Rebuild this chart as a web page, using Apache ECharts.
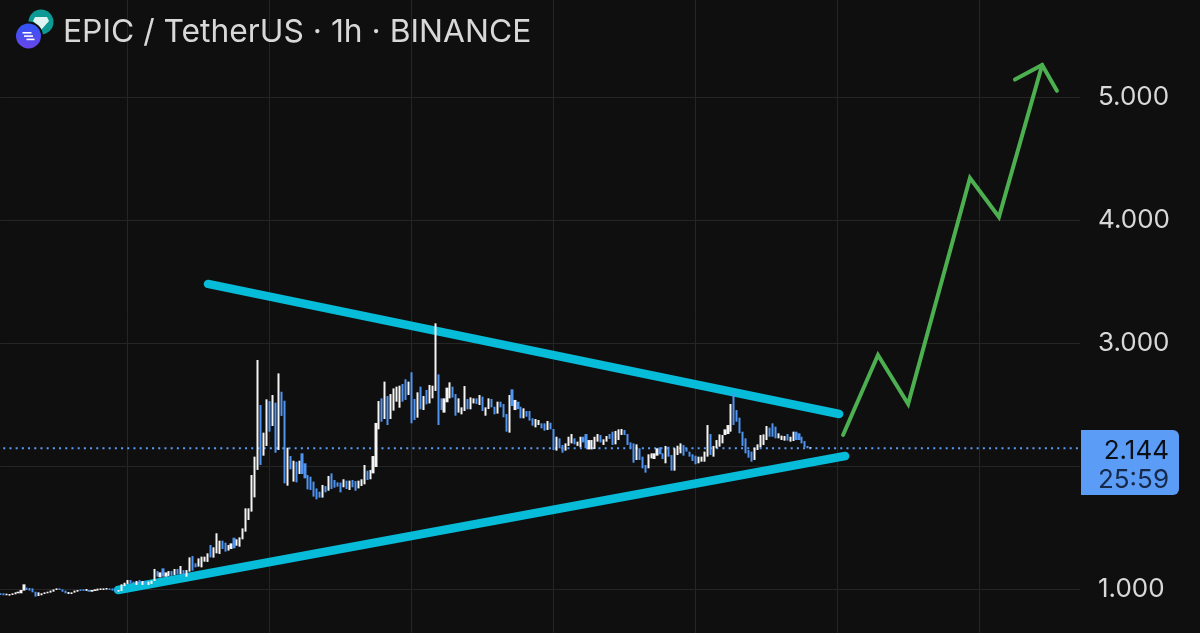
<!DOCTYPE html>
<html>
<head>
<meta charset="utf-8">
<script src="https://cdn.jsdelivr.net/npm/echarts@6/dist/echarts.min.js"></script>
<style>html,body{margin:0;padding:0;background:#0f0f0f}#c{width:1200px;height:633px}</style>
</head>
<body>
<div id="c"></div>
<script>
const chartTitle = 'EPIC / TetherUS · 1h · BINANCE';
const yTickLabels = [1, 3, 4, 5];
const lastPrice = 2.144;
const countdown = '25:59';
const opens = [
.965,.965,.949,.946,.951,.957,.965,.965,.987,1.011,
1.008,1.005,.978,.943,.949,.959,.965,.970,.978,.992,
1.005,.997,.987,.959,.959,.970,.978,.997,.997,.984,
.992,.978,.984,.987,.992,.992,.995,1.005,1.005,.997,
.978,.984,1.024,1.041,1.073,1.060,1.033,1.073,1.033,1.060,
1.033,1.041,1.065,1.146,1.095,1.168,1.100,1.106,1.146,1.114,
1.163,1.122,1.154,1.100,1.141,1.268,1.209,1.182,1.176,1.222,
1.220,1.358,1.255,1.290,1.285,1.393,1.377,1.312,1.325,1.417,
1.352,1.344,1.404,1.466,1.561,1.629,1.745,1.968,2.496,2.084,
2.163,2.528,2.325,2.515,2.130,2.604,2.531,1.840,2.081,1.873,
2.035,1.935,2.103,2.022,1.927,1.913,1.873,1.818,1.791,1.743,
1.837,1.799,1.940,1.886,1.867,1.865,1.827,1.881,1.805,1.886,
1.878,1.818,1.837,1.851,1.962,1.892,1.940,1.992,2.298,2.550,
2.382,2.569,2.382,2.450,2.523,2.474,2.667,2.705,2.577,2.762,
2.545,2.393,2.645,2.455,2.618,2.509,2.550,2.610,2.745,2.550,
2.434,2.518,2.550,2.645,2.585,2.434,2.420,2.447,2.545,2.461,
2.509,2.550,2.496,2.564,2.409,2.463,2.545,2.482,2.426,2.523,
2.504,2.423,2.271,2.623,2.455,2.523,2.482,2.388,2.447,2.447,
2.388,2.314,2.333,2.347,2.347,2.293,2.352,2.301,2.125,2.225,
2.171,2.125,2.163,2.184,2.225,2.163,2.152,2.238,2.260,2.135,
2.135,2.138,2.198,2.252,2.171,2.198,2.260,2.279,2.176,2.211,
2.252,2.293,2.260,2.192,2.184,2.049,2.144,2.076,2.008,1.981,
2.062,2.057,2.084,2.152,2.103,2.022,2.157,2.089,1.962,2.089,
2.103,2.171,2.144,2.117,2.095,2.084,2.022,2.035,2.035,2.076,
2.260,2.076,2.144,2.157,2.184,2.252,2.260,2.279,2.591,2.455,
2.393,2.279,2.225,2.130,2.117,2.049,2.130,2.152,2.171,2.211,
2.312,2.347,2.320,2.225,2.211,2.206,2.260,2.198,2.203,2.279,
2.266,2.238,2.203,2.163,2.144
];
const closes = [
.951,.949,.962,.959,.965,.973,.978,.992,1.038,.992,
.987,.973,.938,.973,.965,.973,.978,.987,.997,1.005,
.992,.978,.965,.976,.973,.987,.992,.984,.984,1.000,
.978,.992,.997,1.003,1.005,1.005,1.008,.992,.987,.978,
.992,1.038,1.051,1.073,1.046,1.041,1.065,1.041,1.065,1.041,
1.060,1.068,1.163,1.100,1.135,1.100,1.135,1.146,1.108,1.163,
1.119,1.187,1.114,1.154,1.257,1.149,1.176,1.249,1.263,1.263,
1.290,1.257,1.339,1.453,1.393,1.325,1.304,1.358,1.371,1.331,
1.404,1.420,1.493,1.656,1.656,1.927,2.076,2.862,2.008,2.271,
2.542,2.279,2.577,2.108,2.753,2.407,1.859,2.149,1.973,2.043,
1.867,2.043,1.935,1.900,1.810,1.805,1.751,1.729,1.743,1.846,
1.786,1.919,1.813,1.824,1.832,1.786,1.892,1.813,1.881,1.827,
1.799,1.881,1.892,2.008,1.886,1.968,2.081,2.350,2.528,2.360,
2.686,2.333,2.585,2.631,2.645,2.653,2.523,2.537,2.686,2.347,
2.374,2.599,2.461,2.569,2.501,2.659,2.653,3.160,2.333,2.455,
2.550,2.637,2.680,2.556,2.409,2.550,2.477,2.650,2.461,2.558,
2.550,2.504,2.577,2.447,2.477,2.550,2.477,2.420,2.523,2.477,
2.396,2.279,2.577,2.488,2.537,2.463,2.388,2.469,2.401,2.369,
2.328,2.382,2.374,2.306,2.287,2.366,2.298,2.130,2.238,2.144,
2.108,2.184,2.238,2.260,2.176,2.198,2.238,2.192,2.144,2.211,
2.211,2.238,2.260,2.192,2.217,2.244,2.220,2.171,2.285,2.298,
2.301,2.252,2.171,2.144,2.027,2.176,2.049,1.981,1.946,2.095,
2.103,2.103,2.144,2.095,2.057,2.163,2.076,1.962,2.144,2.165,
2.184,2.084,2.117,2.076,2.041,2.014,2.076,2.076,2.117,2.333,
2.089,2.163,2.211,2.257,2.252,2.298,2.333,2.504,2.333,2.360,
2.266,2.163,2.103,2.068,2.035,2.149,2.176,2.252,2.257,2.325,
2.238,2.238,2.225,2.266,2.247,2.244,2.206,2.238,2.279,2.211,
2.211,2.184,2.152,2.144,2.152
];
const totalHours = 366;
const hourLabels = Array.from({length: totalHours}, (_, i) => String(i));
const gridHourOffset = 43, gridHourStep = 48;
const upperTrendHours = [70.2, 283.6], upperTrendPrices = [3.480, 2.423];
const lowerTrendHours = [39.8, 285.6], lowerTrendPrices = [0.992, 2.081];
const forecastHours = [284.9, 296.7, 306.9, 327.8, 337.6, 352.2];
const forecastPrices = [2.252, 2.902, 2.504, 4.341, 4.024, 5.260];
const arrowHours = [343.0, 352.2, 357.2];
const arrowPrices = [5.142, 5.260, 5.050];

const zip = (a, b) => a.map((v, i) => [v, b[i]]);
const candles = opens.map((o, i) => [o, closes[i], Math.min(o, closes[i]), Math.max(o, closes[i])]);
const font = 'Inter';
const trendStyle = {color: '#06bcd9', width: 8.5, cap: 'round'};
const greenStyle = {color: '#4caf50', width: 4, cap: 'round', join: 'miter'};
const overlay = (name, data, lineStyle, z) => ({
  name, type: 'line', xAxisIndex: 1, data, lineStyle, z, symbol: 'none', silent: true, clip: false
});

const chart = echarts.init(document.getElementById('c'), null, {renderer: 'canvas'});
chart.setOption({
  animation: false,
  backgroundColor: '#0f0f0f',
  title: {text: chartTitle, left: 58, top: 11, textStyle: {color: '#d8d8d8', fontFamily: font, fontWeight: 400, fontSize: 31.8}},
  grid: {left: 0.3, width: 1079.7, top: -26, height: 738, outerBoundsMode: 'none'},
  xAxis: [
    {type: 'category', data: hourLabels, boundaryGap: false,
     axisLine: {show: false}, axisTick: {show: false}, axisLabel: {show: false},
     splitLine: {show: true, interval: i => (i - gridHourOffset) % gridHourStep === 0, lineStyle: {color: '#252525', width: 1}}},
    {type: 'value', min: 0, max: totalHours - 1, show: false, splitLine: {show: false}}
  ],
  yAxis: {
    type: 'value', min: 0, max: 6, interval: 1, position: 'right',
    axisLine: {show: false}, axisTick: {show: false},
    splitLine: {show: true, lineStyle: {color: '#252525', width: 1}},
    axisLabel: {
      margin: 18, color: '#d8d8d8', fontFamily: font, fontSize: 26, padding: [7, 0, 0, 0],
      formatter: v => yTickLabels.includes(v) ? v.toFixed(3) : ''
    }
  },
  series: [
    overlay('Last price', [[1, lastPrice], [totalHours - 1, lastPrice]], {color: '#5b9cf6', width: 2, type: [2, 4.2]}, 2),
    overlay('Upper trend', zip(upperTrendHours, upperTrendPrices), trendStyle, 3),
    overlay('Lower trend', zip(lowerTrendHours, lowerTrendPrices), trendStyle, 3),
    {name: 'EPIC/USDT', type: 'candlestick', data: candles, barWidth: 2.6, z: 4, silent: true,
     itemStyle: {color: '#f4f4f4', color0: '#4f94f0', borderColor: '#f4f4f4', borderColor0: '#4f94f0', borderWidth: 0}},
    overlay('Forecast', zip(forecastHours, forecastPrices), greenStyle, 5),
    overlay('Forecast arrow', zip(arrowHours, arrowPrices), greenStyle, 5)
  ],
  graphic: [
    {type: 'rect', shape: {x: 1081, y: 430, width: 98, height: 65, r: [0, 6, 6, 0]}, style: {fill: '#5b9cf6'}, z: 20},
    {type: 'text', x: 1169, y: 451, z: 21, style: {text: lastPrice.toFixed(3), fill: '#0b0f16', font: '26px Inter', align: 'right', verticalAlign: 'middle'}},
    {type: 'text', x: 1169, y: 480, z: 21, style: {text: countdown, fill: '#16294a', font: '26px Inter', align: 'right', verticalAlign: 'middle'}},
    {type: 'circle', shape: {cx: 41, cy: 22, r: 12.5}, style: {fill: '#0e9a94'}, z: 20},
    {type: 'polygon', shape: {points: [[35,17],[47,17],[49,21],[41,30],[33,21]]}, style: {fill: '#dff5f3'}, z: 21},
    {type: 'circle', shape: {cx: 28.5, cy: 36, r: 14.5}, style: {fill: '#0f0f0f'}, z: 22},
    {type: 'circle', shape: {cx: 28.5, cy: 36, r: 12.5},
     style: {fill: new echarts.graphic.LinearGradient(0, 0, 0, 1, [{offset: 0, color: '#2f55f5'}, {offset: 1, color: '#6a45e8'}])}, z: 23},
    {type: 'rect', shape: {x: 22.5, y: 32, width: 9, height: 1.6}, style: {fill: '#ffffff'}, z: 24},
    {type: 'rect', shape: {x: 24, y: 35.3, width: 9, height: 1.6}, style: {fill: '#ffffff'}, z: 24},
    {type: 'rect', shape: {x: 26.5, y: 38.6, width: 8, height: 1.6}, style: {fill: '#ffffff'}, z: 24}
  ]
});
</script>
</body>
</html>
